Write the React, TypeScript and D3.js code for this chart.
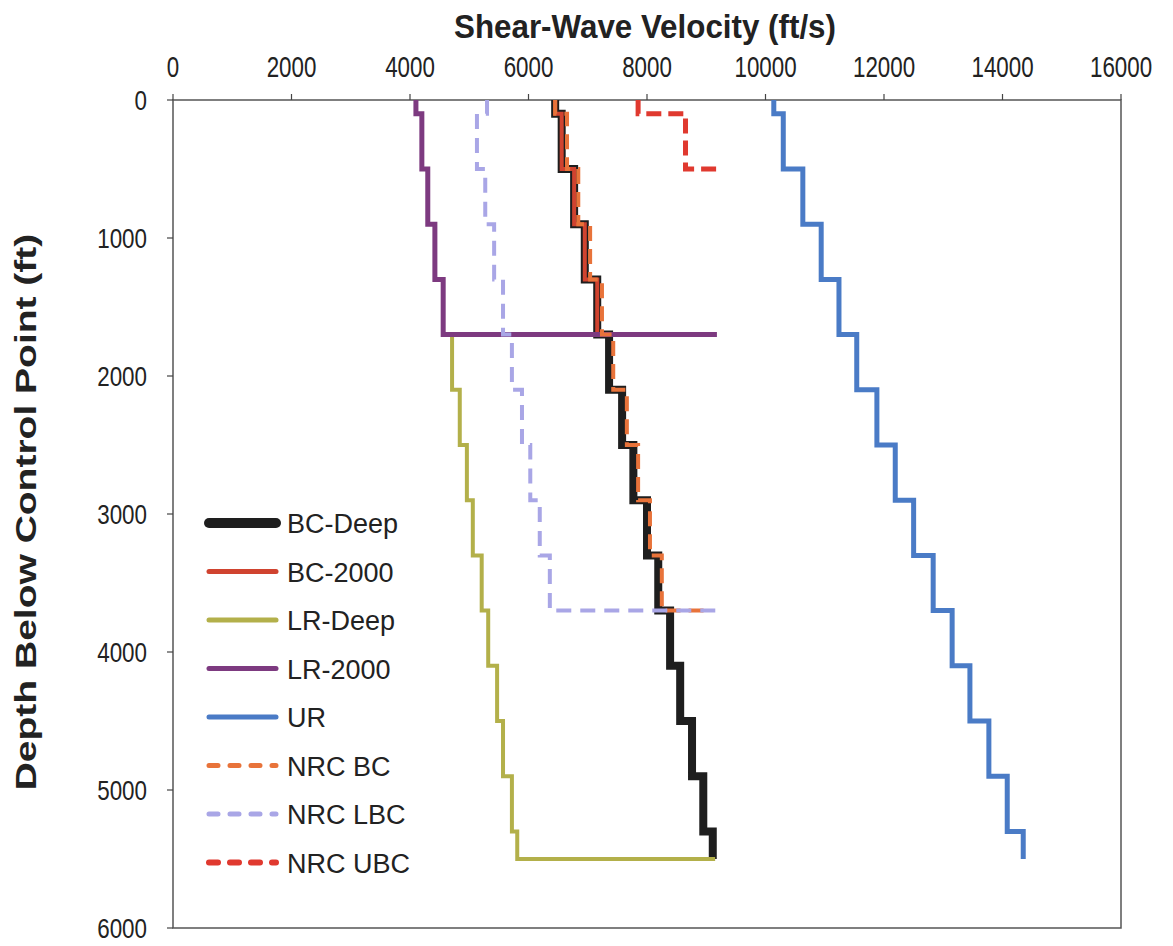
import * as d3 from "d3";

// layer top depths (ft) shared by all profiles
const layerTops = [0, 100, 500, 900, 1300, 1700, 2100, 2500, 2900, 3300, 3700, 4100, 4500, 4900, 5300];

// shear-wave velocities (ft/s) per layer
const bcDeep = [6450, 6560, 6770, 6950, 7160, 7360, 7580, 7770, 8000, 8190, 8390, 8560, 8760, 8950, 9110];
const bc2000 = [6450, 6560, 6770, 6950, 7160];
const lrDeep = [4710, 4840, 4960, 5060, 5210, 5320, 5470, 5570, 5720, 5810];
const lr2000 = [4100, 4200, 4300, 4420, 4560];
const ur = [10140, 10300, 10630, 10940, 11240, 11540, 11880, 12190, 12500, 12830, 13150, 13450, 13770, 14080, 14350];
const nrcBC = [6450, 6650, 6840, 7040, 7240, 7430, 7660, 7850, 8050, 8250];
const nrcLBC = [5300, 5130, 5270, 5420, 5570, 5720, 5890, 6030, 6190, 6360];
const nrcUBC = [7850, 8650];

const xTicks = [0, 2000, 4000, 6000, 8000, 10000, 12000, 14000, 16000];
const yTicks = [0, 1000, 2000, 3000, 4000, 5000, 6000];

type Series = {
  name: string;
  values: number[];
  start: number; // index into layerTops
  bottom: number;
  tail?: number; // half-space line at bottom
  color: string;
  width: number;
  dash?: string;
  legendWidth: number;
};

const series: Series[] = [
  { name: "BC-Deep", values: bcDeep, start: 0, bottom: 5500, color: "#1e1e1e", width: 8, legendWidth: 10 },
  { name: "BC-2000", values: bc2000, start: 0, bottom: 1700, tail: 7360, color: "#d0432f", width: 4, legendWidth: 5 },
  { name: "LR-Deep", values: lrDeep, start: 5, bottom: 5500, tail: 9150, color: "#b3b04a", width: 4, legendWidth: 5 },
  { name: "LR-2000", values: lr2000, start: 0, bottom: 1700, tail: 9180, color: "#7d3a80", width: 5, legendWidth: 5 },
  { name: "UR", values: ur, start: 0, bottom: 5500, color: "#4a7bc6", width: 5, legendWidth: 5 },
  { name: "NRC BC", values: nrcBC, start: 0, bottom: 3700, tail: 9050, color: "#e8733a", width: 4, dash: "15,8", legendWidth: 5 },
  { name: "NRC LBC", values: nrcLBC, start: 0, bottom: 3700, tail: 9290, color: "#a9a6e6", width: 4, dash: "15,9", legendWidth: 5 },
  { name: "NRC UBC", values: nrcUBC, start: 0, bottom: 500, tail: 9180, color: "#e0392f", width: 5, dash: "15,7", legendWidth: 6 },
];

const W = 1173;
const H = 946;
const font = "'Liberation Sans', Arial, sans-serif";

export default function App() {
  const x = d3.scaleLinear().domain([0, 16000]).range([173, 1121]);
  const y = d3.scaleLinear().domain([0, 6000]).range([100, 928]);

  const line = d3
    .line<[number, number]>()
    .x((d) => x(d[0]))
    .y((d) => y(d[1]))
    .curve(d3.curveStepBefore);

  const profile = (s: Series): [number, number][] => {
    const pts: [number, number][] = s.values.map((v, i) => [v, layerTops[s.start + i]]);
    pts.push([s.tail ?? s.values[s.values.length - 1], s.bottom]);
    return pts;
  };

  const legendY = d3.scaleLinear().domain([0, 1]).range([523, 571.5]);

  return (
    <svg
      width={W}
      height={H}
      style={{ position: "absolute", left: 0, top: 0, background: "#fff" }}
      fontFamily={font}
    >
      <rect x={0} y={0} width={W} height={H} fill="#fff" />

      {/* frame */}
      <rect
        x={x(0)}
        y={y(0)}
        width={x(16000) - x(0)}
        height={y(6000) - y(0)}
        fill="none"
        stroke="#555"
        strokeWidth={1.5}
      />

      {/* x axis (top) */}
      {xTicks.map((t) => (
        <g key={"x" + t}>
          <line x1={x(t)} x2={x(t)} y1={y(0)} y2={y(0) - 6} stroke="#444" strokeWidth={1.2} />
          <text
            transform={`translate(${x(t)},77) scale(0.77,1)`}
            textAnchor="middle"
            fontSize={29}
            fill="#222"
          >
            {t}
          </text>
        </g>
      ))}

      {/* y axis (left) */}
      {yTicks.map((t) => (
        <g key={"y" + t}>
          <line x1={x(0) - 6} x2={x(0)} y1={y(t)} y2={y(t)} stroke="#444" strokeWidth={1.2} />
          <text
            transform={`translate(147,${y(t) + 10}) scale(0.8,1)`}
            textAnchor="end"
            fontSize={28}
            fill="#222"
          >
            {t}
          </text>
        </g>
      ))}

      {/* axis titles */}
      <text
        transform="translate(645,38) scale(0.95,1)"
        textAnchor="middle"
        fontSize={33}
        fontWeight="bold"
        fill="#222"
      >
        Shear-Wave Velocity (ft/s)
      </text>
      <text
        transform="translate(36,512) rotate(-90) scale(1.3,1)"
        textAnchor="middle"
        fontSize={30}
        fontWeight="bold"
        fill="#222"
      >
        Depth Below Control Point (ft)
      </text>

      {/* profiles */}
      {series.map((s) => (
        <path
          key={s.name}
          d={line(profile(s)) ?? ""}
          fill="none"
          stroke={s.color}
          strokeWidth={s.width}
          strokeDasharray={s.dash}
          strokeLinejoin="miter"
        />
      ))}

      {/* legend */}
      {series.map((s, i) => (
        <g key={"lg" + s.name} transform={`translate(0,${legendY(i)})`}>
          <line
            x1={209}
            x2={276}
            y1={0}
            y2={0}
            stroke={s.color}
            strokeWidth={s.legendWidth}
            strokeLinecap="round"
            strokeDasharray={s.dash ? "9,12" : undefined}
          />
          <text x={287} y={10} fontSize={27} fill="#222">
            {s.name}
          </text>
        </g>
      ))}
    </svg>
  );
}
